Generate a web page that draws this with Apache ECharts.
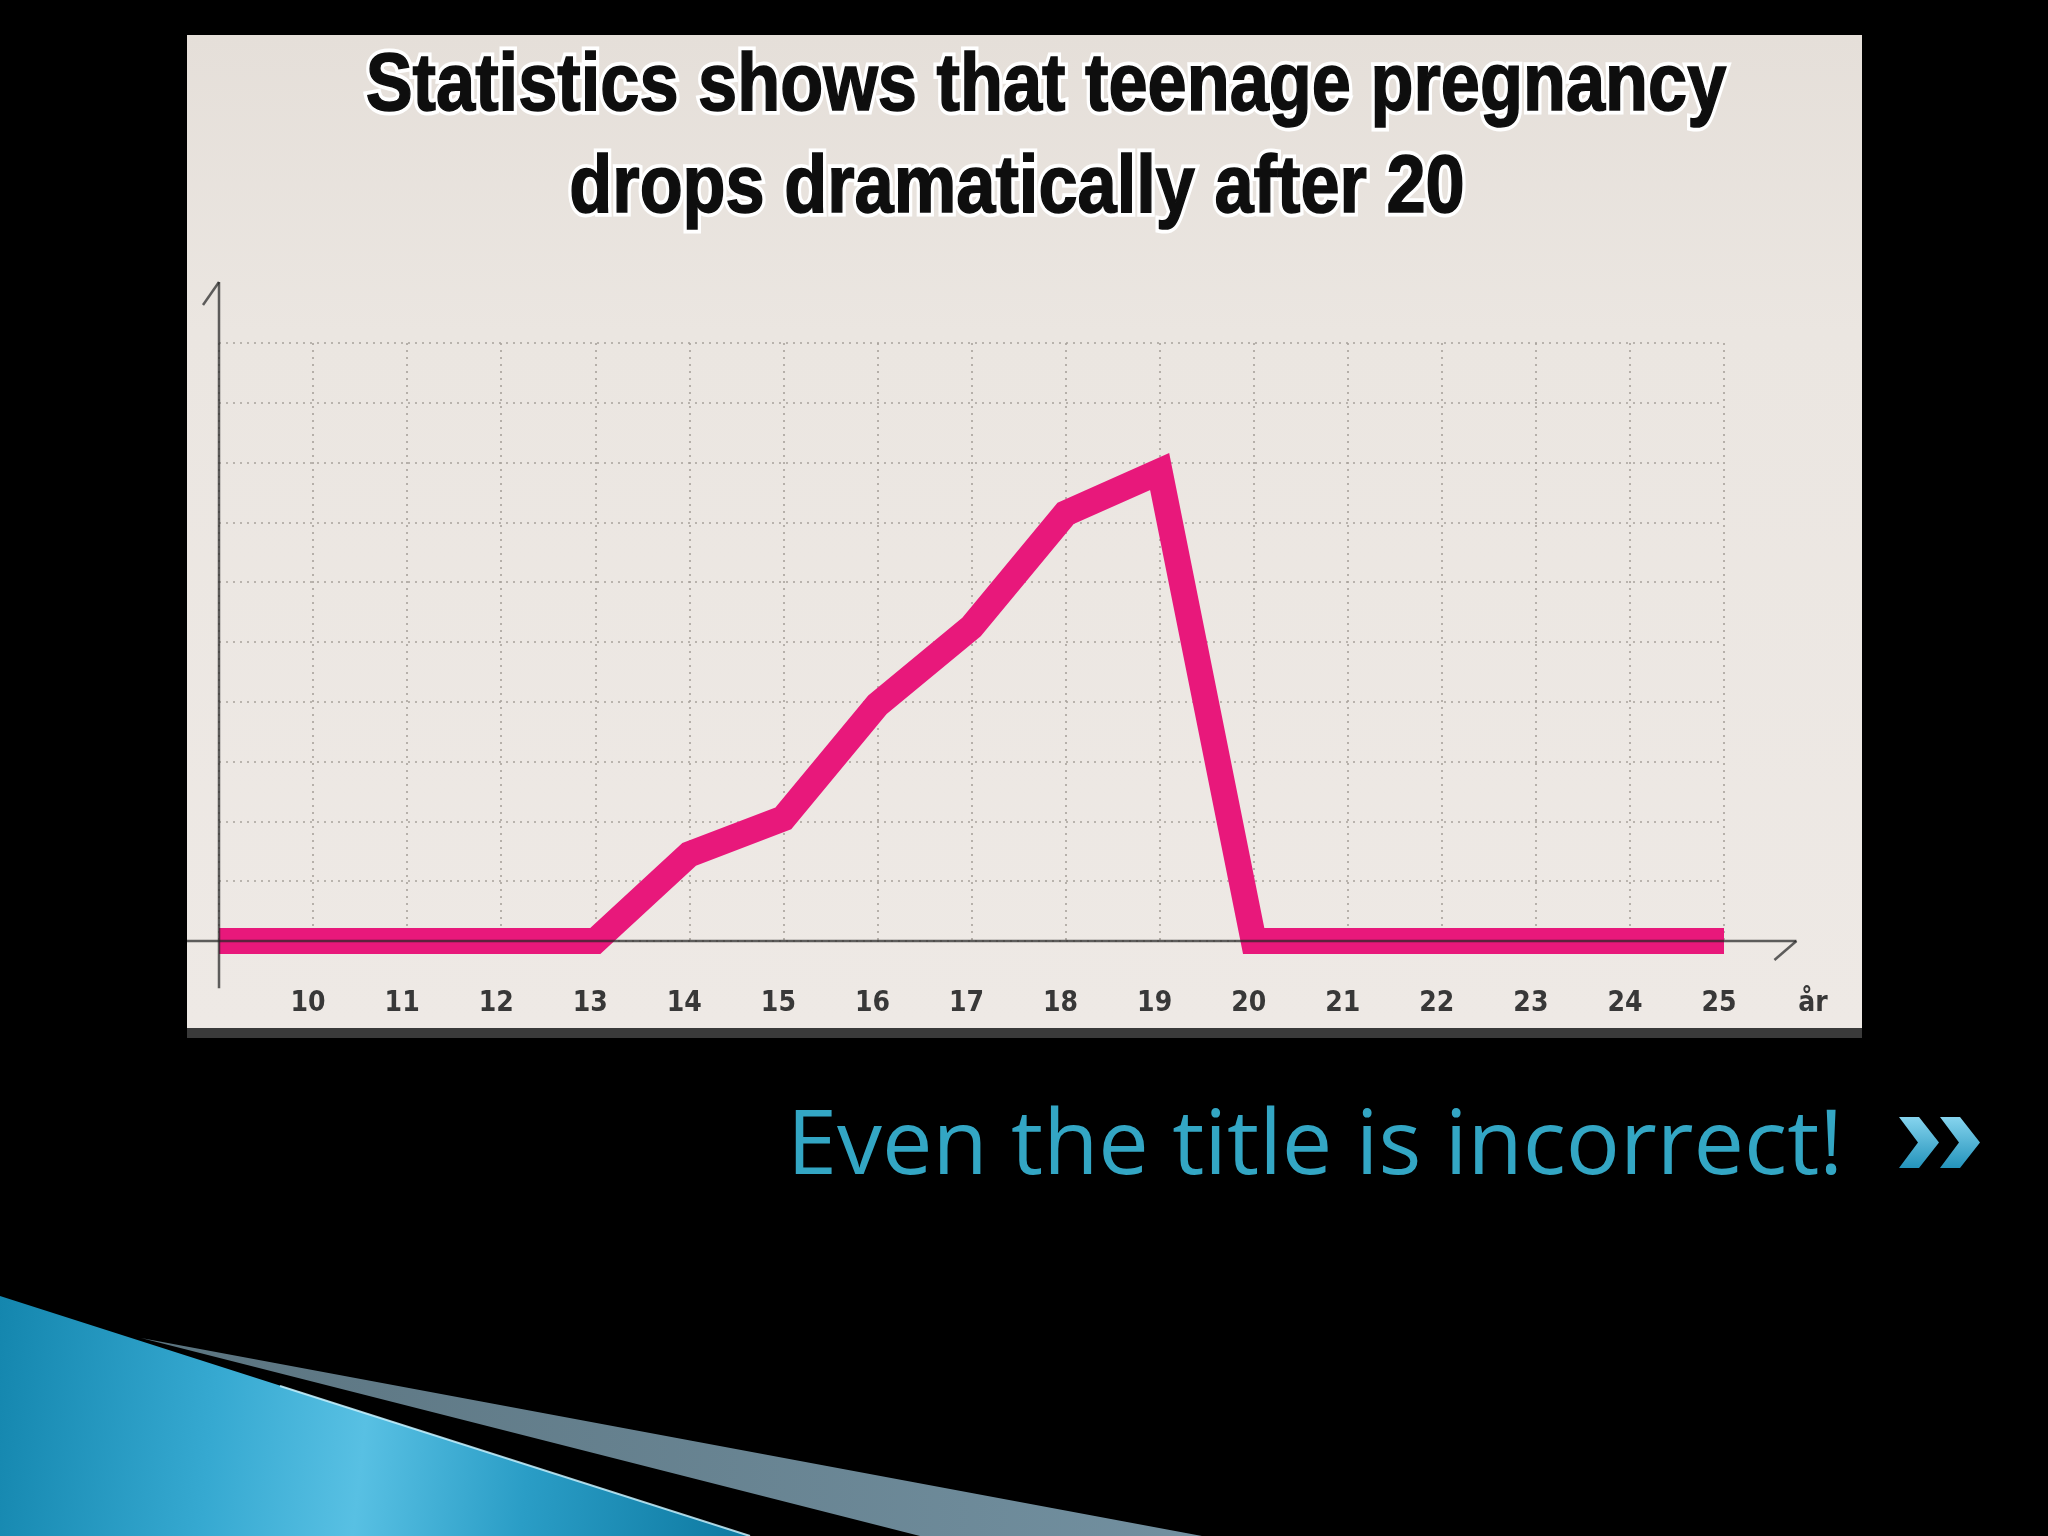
<!DOCTYPE html>
<html>
<head>
<meta charset="utf-8">
<script src="https://cdn.jsdelivr.net/npm/echarts@6/dist/echarts.min.js"></script>
<style>
html,body{margin:0;padding:0;background:#000;}
#c{width:2048px;height:1536px;}
</style>
</head>
<body>
<div id="c"></div>
<script>
// ---- data ----
const ages = [9, 10, 11, 12, 13, 14, 15, 16, 17, 18, 19, 20, 21, 22, 23, 24, 25];
const births = [0, 0, 0, 0, 0, 1.45, 2.05, 3.95, 5.25, 7.15, 7.85, 0, 0, 0, 0, 0, 0];
const xTickRange = [9, 25];
const yTickRange = [0, 10];
const xAxisLineExtent = [8.66, 25.77];
const yAxisLineExtent = [-0.79, 11.02];
const unitLabel = 'år';
const titleLines = ['Statistics shows that teenage pregnancy', 'drops dramatically after 20'];
const slideCaption = 'Even the title is incorrect!';

// ---- styles ----
const CONDENSED = '"DejaVu Sans Condensed", "Liberation Sans Narrow", Arial, sans-serif';
const TITLE_FONT = '"Liberation Sans", Arial, sans-serif';
const GRID_LINE = { color: '#a8a29c', width: 1.6, type: [2, 5] };
const LABEL_MARGIN = 49;

const chart = echarts.init(document.getElementById('c'), null, { renderer: 'canvas', width: 2048, height: 1536 });

function chevron(dx) {
  return {
    type: 'polygon', z: 1,
    shape: { points: [[1899 + dx, 1117], [1919 + dx, 1117], [1939 + dx, 1142.5], [1919 + dx, 1168], [1899 + dx, 1168], [1918 + dx, 1142.5]] },
    style: { fill: { type: 'linear', x: 0, y: 0, x2: 0, y2: 1, colorStops: [{ offset: 0, color: '#86d4ee' }, { offset: 1, color: '#2393bb' }] } }
  };
}

// title drawn as two layers: a white halo with a drop shadow, then the black lettering
function titleText(id, text, x, y) {
  const base = { text: text, fontFamily: TITLE_FONT, fontWeight: 'bold', fontSize: 82, align: 'center', verticalAlign: 'middle' };
  return [
    { id: id + 'Halo', type: 'text', z: 19, x: x, y: y, scaleX: 0.858,
      style: Object.assign({}, base, { fill: '#ffffff', stroke: '#ffffff', lineWidth: 9, lineJoin: 'round',
        shadowColor: 'rgba(0,0,0,0.75)', shadowBlur: 4, shadowOffsetX: 4, shadowOffsetY: 6 }) },
    { id: id, type: 'text', z: 20, x: x, y: y, scaleX: 0.858,
      style: Object.assign({}, base, { fill: '#0e0e0e', stroke: '#0e0e0e', lineWidth: 1.5 }) }
  ];
}

const staticGraphics = [
  { id: 'panel', type: 'rect', z: -10, shape: { x: 187, y: 35, width: 1675, height: 993 },
    style: { fill: { type: 'linear', x: 0, y: 0, x2: 0, y2: 1, colorStops: [{ offset: 0, color: '#e5dfd9' }, { offset: 0.3, color: '#ebe6e1' }, { offset: 1, color: '#eee9e5' }] } } },
  { id: 'band', type: 'rect', z: -10, shape: { x: 187, y: 1028, width: 1675, height: 10 }, style: { fill: '#3a3a3a' } },
  { id: 'blue', type: 'polygon', z: -10, shape: { points: [[0, 1296], [750, 1536], [0, 1536]] },
    style: { fill: { type: 'linear', x: 0, y: 0, x2: 1, y2: 0.35, colorStops: [
      { offset: 0, color: '#1486ae' }, { offset: 0.3, color: '#36a9d1' }, { offset: 0.5, color: '#58c0e3' },
      { offset: 0.72, color: '#2a9dc6' }, { offset: 1, color: '#0f7ba3' }] } } },
  { id: 'blueEdge', type: 'polyline', z: -9, shape: { points: [[280, 1386], [750, 1536]] },
    style: { stroke: 'rgba(200,240,252,0.85)', lineWidth: 2 } },
  { id: 'grey', type: 'polygon', z: -10, shape: { points: [[141, 1338], [1202, 1536], [920, 1536]] },
    style: { fill: { type: 'linear', x: 0, y: 0, x2: 1, y2: 0, colorStops: [{ offset: 0, color: '#5b7480' }, { offset: 1, color: '#7290a0' }] } } },
  { id: 'caption', type: 'text', z: 1, x: 787, y: 1148,
    style: { text: slideCaption, fill: '#33a6c4', fontFamily: '"Open Sans", "Noto Sans", sans-serif', fontSize: 90, verticalAlign: 'middle', align: 'left' } },
  Object.assign({ id: 'chev1' }, chevron(0)),
  Object.assign({ id: 'chev2' }, chevron(41))
].concat(titleText('title1', titleLines[0], 1046, 87), titleText('title2', titleLines[1], 1017, 189));

const option = {
  backgroundColor: '#000',
  animation: false,
  grid: { left: 219, right: 324, top: 343, bottom: 595, containLabel: false, outerBoundsMode: 'none' },
  xAxis: {
    type: 'value', min: xTickRange[0], max: xTickRange[1], interval: 1,
    axisLine: { show: false }, axisTick: { show: false },
    splitLine: { show: true, lineStyle: GRID_LINE },
    axisLabel: { showMinLabel: false, showMaxLabel: true, color: '#383838', fontSize: 28, fontWeight: 'bold',
      fontFamily: CONDENSED, margin: LABEL_MARGIN, padding: [0, 10, 0, 0] }
  },
  yAxis: {
    type: 'value', min: yTickRange[0], max: yTickRange[1], interval: 1,
    axisLine: { show: false }, axisTick: { show: false }, axisLabel: { show: false },
    splitLine: { show: true, lineStyle: GRID_LINE }
  },
  series: [{
    type: 'line', silent: true, z: 2,
    data: ages.map((a, i) => [a, births[i]]),
    symbol: 'none',
    lineStyle: { color: '#e8187b', width: 26, cap: 'butt', join: 'miter', miterLimit: 4 }
  }],
  graphic: staticGraphics
};
chart.setOption(option);

// axis lines (crossing, extended beyond the grid) placed through the grid's own scales
const px = (x, y) => chart.convertToPixel({ gridIndex: 0 }, [x, y]);
const xa0 = px(xAxisLineExtent[0], 0), xa1 = px(xAxisLineExtent[1], 0);
const ya0 = px(xTickRange[0], yAxisLineExtent[0]), ya1 = px(xTickRange[0], yAxisLineExtent[1]);
const unitPos = px(xTickRange[1] + 1, 0);
const AXIS = { stroke: '#262626', lineWidth: 2.5, opacity: 0.72 };

chart.setOption({
  graphic: staticGraphics.concat([
    { id: 'xAxisLine', type: 'polyline', z: 50, shape: { points: [xa0, xa1] }, style: AXIS },
    { id: 'xArrow', type: 'polyline', z: 50, shape: { points: [xa1, [xa1[0] - 22, xa1[1] + 19]] }, style: AXIS },
    { id: 'yAxisLine', type: 'polyline', z: 50, shape: { points: [ya0, ya1] }, style: AXIS },
    { id: 'yArrow', type: 'polyline', z: 50, shape: { points: [ya1, [ya1[0] - 16, ya1[1] + 23]] }, style: AXIS },
    { id: 'unit', type: 'text', z: 50, x: unitPos[0] - 5, y: unitPos[1] + LABEL_MARGIN,
      style: { text: unitLabel, fill: '#383838', fontSize: 28, fontWeight: 'bold', fontFamily: CONDENSED, align: 'center', verticalAlign: 'top' } }
  ])
});
</script>
</body>
</html>
